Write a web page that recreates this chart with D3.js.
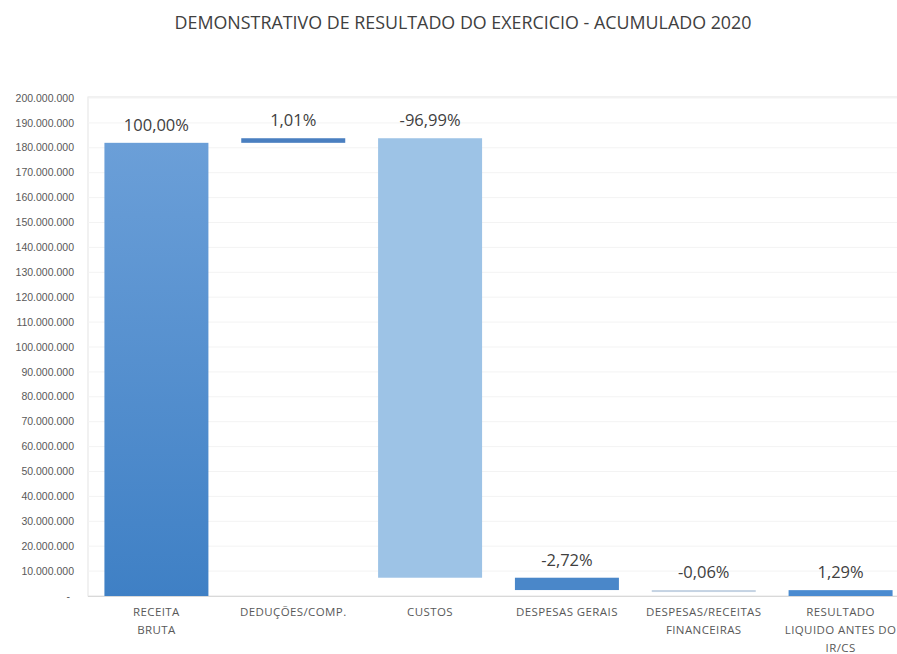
<!DOCTYPE html>
<html><head><meta charset="utf-8">
<script src="https://cdn.jsdelivr.net/npm/d3@7"></script>
<style>body{margin:0;background:#fff;font-family:"Open Sans","Noto Sans",sans-serif}</style>
</head><body><svg id="c" width="897" height="654"></svg>
<script>
const categories = [["RECEITA","BRUTA"],["DEDUÇÕES/COMP."],["CUSTOS"],["DESPESAS GERAIS"],["DESPESAS/RECEITAS","FINANCEIRAS"],["RESULTADO","LIQUIDO ANTES DO","IR/CS"]];
const values = [182000000, 1840000, -176500000, -4950000, -110000, 2350000];
const isTotal = [true, false, false, false, false, true];
const pctLabels = ["100,00%","1,01%","-96,99%","-2,72%","-0,06%","1,29%"];
const colors = ["url(#gradR)","#4a7fc0","#9dc3e6","#4a87c9","#c5d3e3","#4a8bd0"];
const yTicks = d3.range(0, 200000001, 10000000);

const svg = d3.select("#c");
const m = {l:88, r:-12, t:97, b:58};
const W = 897, H = 654;
const x = d3.scaleBand().domain(d3.range(categories.length)).range([m.l, W - m.r]).paddingInner(0.24).paddingOuter(0.12);
const y = d3.scaleLinear().domain([0, 200000000]).range([596, 98]);

const defs = svg.append("defs");
const g = defs.append("linearGradient").attr("id","gradR").attr("x1",0).attr("y1",0).attr("x2",0).attr("y2",1);
g.append("stop").attr("offset","0%").attr("stop-color","#6b9fd8");
g.append("stop").attr("offset","100%").attr("stop-color","#3f80c5");

// frame
svg.append("rect").attr("x",m.l).attr("y",m.t).attr("width",W).attr("height",596-m.t).attr("fill","none").attr("stroke","#e4e4e4");

// gridlines
svg.append("g").selectAll("line").data(yTicks.slice(1)).join("line")
  .attr("x1",m.l).attr("x2",W).attr("y1",d=>y(d)).attr("y2",d=>y(d)).attr("stroke","#f3f3f3");

// y axis labels
const fmt = d => d === 0 ? "-" : d3.format(",")(d).replace(/,/g,".");
svg.append("g").selectAll("text").data(yTicks).join("text")
  .attr("x",d=>d===0?70:74).attr("y",d=>y(d)).attr("dy","0.35em").attr("text-anchor","end")
  .attr("font-size",10.5).attr("fill","#595959").attr("font-family","Liberation Sans, sans-serif").text(fmt);

// waterfall bars
let cum = 0;
const bars = values.map((v,i)=>{
  let y0, y1;
  if (isTotal[i]) { y0 = 0; y1 = v; cum = v; }
  else { y0 = cum; y1 = cum + v; cum = y1; }
  return {i, lo: Math.min(y0,y1), hi: Math.max(y0,y1)};
});
svg.append("g").selectAll("rect").data(bars).join("rect")
  .attr("x",d=>x(d.i)).attr("width",x.bandwidth())
  .attr("y",d=>y(d.hi)).attr("height",d=>Math.max(2, y(d.lo)-y(d.hi)))
  .attr("fill",d=>colors[d.i]);

// axis line
svg.append("line").attr("x1",m.l).attr("x2",W).attr("y1",596.5).attr("y2",596.5).attr("stroke","#d9d9d9");

// percent labels
svg.append("g").selectAll("text").data(bars).join("text")
  .attr("x",d=>x(d.i)+x.bandwidth()/2).attr("y",d=>y(d.hi)-12)
  .attr("text-anchor","middle").attr("font-size",16.5).attr("fill","#404040").text(d=>pctLabels[d.i]);

// x labels
const xl = svg.append("g").selectAll("text").data(categories).join("text")
  .attr("x",(d,i)=>x(i)+x.bandwidth()/2).attr("y",616)
  .attr("text-anchor","middle").attr("font-size",11.5).attr("letter-spacing",0.4).attr("fill","#595959");
xl.selectAll("tspan").data(d=>d).join("tspan")
  .attr("x",function(){return this.parentNode.getAttribute("x");})
  .attr("dy",(d,j)=>j===0?0:18).text(d=>d);

// title
svg.append("text").attr("x",463).attr("y",29).attr("text-anchor","middle")
  .attr("font-size",19).attr("textLength",577).attr("lengthAdjust","spacingAndGlyphs")
  .attr("fill","#404040").text("DEMONSTRATIVO DE RESULTADO DO EXERCICIO - ACUMULADO 2020");
</script></body></html>
